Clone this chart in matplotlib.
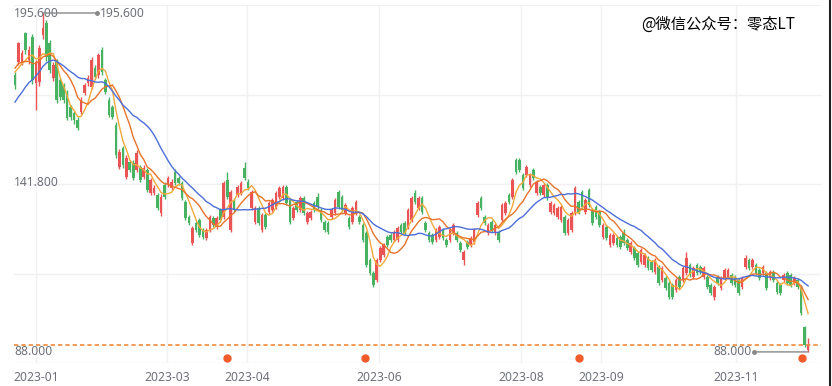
import matplotlib.pyplot as plt
import matplotlib.transforms as mtransforms
from matplotlib.lines import Line2D
import numpy as np
import pandas as pd

# daily candles (Dec 2022 - Nov 2023)
open_ = [175.9, 180.0, 180.0, 189.3, 180.7, 188.0, 173.4, 173.7, 188.6, 192.4,
         186.1, 175.0, 180.0, 174.3, 172.7, 170.2, 165.8, 163.8, 161.6, 164.2,
         170.2, 173.4, 172.1, 178.1, 175.9, 183.9, 174.3, 168.0, 165.8, 160.0,
         146.7, 152.7, 143.5, 148.3, 148.0, 145.8, 146.7, 143.5, 145.8, 138.5,
         138.5, 137.8, 132.1, 141.0, 141.0, 140.0, 145.1, 143.2, 141.6, 135.6,
         130.8, 122.6, 128.9, 129.9, 126.7, 124.2, 126.7, 130.5, 127.7, 133.1,
         130.8, 142.6, 126.7, 136.2, 137.8, 138.5, 146.4, 142.0, 133.7, 129.2,
         133.7, 126.7, 131.5, 132.4, 133.1, 134.0, 137.2, 136.9, 140.4, 136.2,
         130.5, 135.6, 133.1, 136.9, 129.2, 130.5, 135.3, 137.2, 133.1, 129.2,
         128.9, 130.8, 132.1, 138.8, 137.2, 132.1, 130.5, 129.2, 132.1, 130.8,
         128.3, 125.8, 117.2, 113.1, 110.8, 117.2, 118.8, 124.5, 125.1, 123.5,
         123.5, 128.3, 128.9, 127.7, 129.9, 138.5, 133.7, 136.9, 128.9, 125.8,
         125.1, 123.5, 124.5, 126.7, 123.5, 123.5, 125.8, 125.8, 122.6, 117.2,
         122.9, 121.9, 122.9, 131.5, 136.9, 130.8, 125.8, 129.2, 125.8, 126.1,
         129.9, 132.1, 137.8, 137.2, 148.9, 148.9, 144.2, 144.2, 141.0, 145.8,
         138.5, 140.4, 137.8, 141.0, 132.4, 132.1, 130.8, 129.9, 130.8, 125.8,
         126.7, 132.1, 135.6, 138.8, 132.4, 139.4, 133.1, 134.0, 132.4, 124.5,
         127.7, 121.9, 122.6, 124.2, 124.5, 125.8, 123.5, 119.7, 121.0, 119.4,
         116.5, 115.6, 117.8, 116.5, 113.4, 115.0, 110.8, 111.5, 109.9, 109.2,
         107.6, 111.8, 110.8, 113.1, 115.6, 111.8, 115.6, 115.0, 111.8, 111.8,
         109.2, 105.4, 111.8, 108.3, 111.5, 111.8, 112.4, 111.8, 110.8, 108.6,
         115.0, 117.2, 115.0, 115.6, 114.0, 113.1, 113.1, 111.5, 113.4, 109.9,
         109.2, 110.8, 113.1, 112.4, 109.9, 110.8, 108.3, 95.9, 88.6]
close = [172.7, 186.1, 182.9, 183.9, 183.9, 174.3, 180.0, 184.5, 190.8, 181.6,
         177.5, 179.1, 168.0, 168.9, 168.0, 162.3, 162.6, 161.6, 159.1, 168.0,
         172.7, 175.0, 180.7, 175.3, 182.3, 176.9, 170.5, 163.2, 162.6, 150.5,
         151.5, 147.3, 149.6, 145.8, 143.2, 151.2, 142.6, 146.4, 139.4, 142.6,
         140.0, 133.7, 137.2, 137.2, 143.2, 142.0, 141.6, 141.6, 136.9, 130.5,
         128.9, 127.3, 126.7, 125.1, 124.5, 126.7, 130.8, 128.3, 130.5, 129.9,
         141.6, 137.2, 138.8, 133.1, 140.4, 141.6, 143.2, 140.0, 138.8, 133.7,
         128.9, 131.5, 127.7, 135.3, 136.2, 138.5, 140.0, 140.4, 135.3, 129.2,
         133.7, 133.1, 136.9, 132.1, 132.1, 132.4, 133.1, 134.0, 129.9, 126.7,
         126.1, 133.1, 136.2, 134.0, 133.1, 134.6, 127.7, 133.7, 135.6, 129.2,
         123.5, 115.6, 113.1, 109.2, 117.2, 121.0, 121.9, 121.9, 123.5, 126.1,
         127.3, 126.1, 125.8, 133.1, 136.9, 135.6, 136.9, 132.4, 126.7, 123.5,
         122.9, 126.7, 127.7, 124.2, 121.9, 126.7, 128.3, 123.5, 120.4, 119.7,
         121.3, 124.2, 126.7, 135.3, 133.7, 128.9, 128.3, 126.7, 128.3, 123.5,
         134.6, 135.3, 135.6, 142.6, 145.1, 145.8, 140.0, 146.7, 144.2, 143.2,
         142.0, 138.5, 141.0, 136.9, 135.3, 134.6, 133.7, 134.0, 125.8, 129.9,
         132.1, 140.0, 132.4, 134.0, 136.2, 134.6, 128.9, 130.8, 128.3, 128.3,
         124.2, 125.1, 125.1, 121.9, 121.3, 122.6, 121.0, 122.6, 117.8, 115.6,
         120.4, 118.8, 114.6, 114.0, 117.2, 109.9, 114.6, 108.3, 105.4, 105.4,
         110.8, 108.6, 114.6, 117.8, 112.4, 114.6, 113.1, 113.4, 114.6, 108.6,
         106.7, 108.6, 109.9, 111.5, 114.0, 114.0, 109.9, 109.2, 106.7, 111.5,
         117.8, 114.6, 117.2, 113.1, 111.5, 115.0, 108.3, 113.4, 110.8, 107.0,
         106.7, 112.4, 109.9, 109.2, 111.5, 108.6, 100.4, 90.2, 90.2]
high = [177.0, 186.4, 184.0, 189.6, 185.0, 189.0, 180.7, 185.5, 195.6, 193.4,
        187.0, 180.0, 181.0, 175.0, 173.5, 171.0, 166.5, 164.5, 162.5, 169.0,
        173.5, 176.0, 181.5, 179.0, 183.0, 184.8, 175.0, 169.0, 166.5, 161.0,
        152.5, 153.5, 150.5, 149.0, 148.8, 152.0, 147.5, 147.2, 146.5, 143.3,
        141.0, 138.5, 138.0, 141.8, 144.0, 142.8, 146.0, 144.0, 142.3, 136.2,
        131.5, 128.0, 129.5, 130.5, 127.3, 127.3, 131.5, 131.0, 131.2, 133.7,
        142.3, 145.0, 139.5, 137.0, 141.0, 142.3, 148.3, 142.8, 139.5, 134.3,
        134.3, 132.1, 132.1, 136.0, 136.9, 139.2, 140.6, 141.0, 141.0, 136.9,
        134.3, 136.2, 137.5, 137.5, 132.7, 133.0, 136.0, 138.5, 133.7, 129.9,
        129.5, 133.7, 136.9, 139.4, 137.8, 135.3, 131.2, 134.3, 136.2, 131.5,
        128.9, 126.4, 117.8, 113.7, 117.8, 121.6, 122.6, 125.1, 125.8, 126.7,
        128.0, 128.9, 129.5, 133.7, 137.5, 139.4, 137.5, 137.5, 129.5, 126.4,
        125.8, 127.3, 128.3, 127.3, 124.2, 127.3, 128.9, 126.4, 123.2, 120.4,
        123.5, 124.8, 127.3, 136.0, 137.5, 131.5, 128.9, 129.9, 128.9, 126.7,
        135.3, 136.0, 138.5, 143.2, 149.6, 149.6, 144.8, 147.3, 144.8, 146.4,
        142.6, 141.0, 141.6, 141.6, 136.0, 135.3, 134.3, 134.6, 131.5, 130.5,
        132.7, 140.6, 136.2, 139.4, 136.9, 140.0, 133.7, 134.6, 133.1, 128.9,
        128.3, 125.8, 125.8, 124.8, 125.1, 127.0, 124.2, 123.2, 121.6, 120.0,
        121.0, 119.4, 118.4, 117.2, 117.8, 115.6, 115.2, 112.1, 110.5, 109.9,
        111.5, 112.4, 115.2, 119.7, 116.2, 115.2, 116.2, 115.6, 115.2, 112.4,
        109.9, 109.2, 112.4, 112.1, 114.6, 114.6, 113.1, 112.4, 111.5, 112.1,
        118.8, 117.8, 117.8, 116.2, 114.6, 115.6, 113.7, 114.0, 114.0, 110.5,
        109.9, 113.1, 113.7, 113.1, 112.1, 111.5, 108.9, 96.2, 92.4]
low = [171.5, 179.0, 179.0, 182.5, 179.5, 173.0, 164.8, 172.5, 187.5, 180.5,
       176.5, 174.0, 167.0, 168.0, 167.0, 161.5, 161.5, 160.5, 158.3, 163.5,
       169.5, 172.5, 171.5, 174.5, 175.0, 176.0, 169.8, 162.5, 161.8, 149.6,
       146.0, 146.5, 142.8, 145.0, 142.5, 145.0, 142.0, 142.8, 138.8, 137.8,
       137.8, 133.0, 131.3, 136.5, 140.3, 139.4, 141.0, 141.0, 136.2, 129.9,
       128.3, 121.9, 126.0, 124.5, 123.8, 123.5, 126.0, 127.7, 127.0, 129.2,
       130.2, 136.5, 126.0, 132.4, 137.2, 137.8, 142.6, 139.4, 133.0, 128.6,
       128.3, 126.0, 127.0, 131.8, 132.4, 133.4, 136.5, 136.2, 134.6, 128.6,
       129.9, 132.4, 132.4, 131.5, 128.6, 129.9, 132.4, 133.4, 129.2, 126.0,
       125.5, 130.2, 131.5, 133.4, 132.4, 131.5, 127.0, 128.6, 131.5, 128.6,
       122.9, 115.0, 112.4, 108.6, 110.2, 116.5, 118.1, 121.3, 122.9, 122.9,
       122.9, 125.5, 125.1, 127.0, 129.2, 135.0, 133.0, 131.8, 126.0, 122.9,
       122.3, 122.9, 123.8, 123.5, 121.3, 122.9, 125.1, 122.9, 119.7, 115.6,
       120.7, 121.3, 122.3, 130.8, 133.0, 128.3, 125.1, 126.0, 125.1, 122.9,
       129.2, 131.5, 135.0, 136.5, 144.5, 145.1, 139.4, 143.5, 140.4, 142.6,
       137.8, 137.8, 137.2, 136.2, 131.8, 131.5, 130.2, 129.2, 125.1, 125.1,
       126.1, 131.5, 131.8, 133.4, 131.8, 134.0, 128.3, 130.2, 127.7, 123.8,
       123.5, 121.3, 121.9, 121.3, 120.7, 121.9, 120.4, 119.1, 117.2, 115.0,
       115.9, 115.0, 114.0, 113.4, 112.8, 109.2, 110.2, 107.6, 104.8, 104.8,
       107.0, 108.0, 110.2, 112.4, 111.8, 111.2, 112.4, 112.8, 111.2, 108.0,
       106.0, 104.5, 109.2, 107.6, 110.8, 111.2, 109.2, 108.6, 106.0, 108.0,
       114.3, 114.0, 114.3, 112.4, 110.8, 112.4, 107.6, 110.8, 110.2, 106.4,
       106.0, 110.2, 109.2, 108.6, 109.2, 108.0, 99.8, 89.6, 88.0]
# closes before the visible window (only feed the moving averages)
warmup_close = [152, 154, 151, 155, 157, 156, 158, 157, 160, 165,
                172, 178, 182, 183, 181.5, 180, 176, 178.8, 177]

month_labels = ['2023-01', '2023-03', '2023-04', '2023-06', '2023-08', '2023-09', '2023-11']
month_pos = [6, 43.7, 66.7, 104.7, 145.5, 168.5, 207.3]
signal_pos = [61, 100.6, 162.2, 226.3]
ma_windows = [5, 10, 20]
ma_colors = ['#F2A93B', '#E8732A', '#4C6FD8']

UP, DOWN = '#EB5454', '#47B262'
TXT = '#6E7079'
GRID = '#F1F1F3'
FONT = ['Noto Sans', 'DejaVu Sans']
FS = 8.7

plt.rcParams['font.family'] = FONT

fig = plt.figure(figsize=(8.32, 3.86), dpi=100)
ax = fig.add_axes([14/832, 23/386, 807/832, 358/386])

o, c, h, l = map(np.array, (open_, close, high, low))
x = np.arange(len(c))
cols = np.where(c >= o, UP, DOWN)

ax.vlines(x, l, h, colors=cols, lw=1, zorder=2)
ax.bar(x, np.maximum(np.abs(c - o), 0.3), bottom=np.minimum(o, c),
       width=0.75, color=cols, zorder=3)

allc = pd.Series(warmup_close + close)
nw = len(warmup_close)
for w, col in zip(ma_windows, ma_colors):
    ma = allc.rolling(w).mean().iloc[nw:].values
    ax.plot(x, ma, color=col, lw=1.0, zorder=4)

ylo, yhi = 84.48, 198.14
ax.set_xlim(-0.29, 231.7)
ax.set_ylim(ylo, yhi)

# grid
ax.set_yticks(np.linspace(ylo, yhi, 5))
ax.set_yticklabels([])
ax.set_xticks(month_pos)
ax.set_xticklabels(month_labels, fontsize=FS, color=TXT)
ax.tick_params(length=0, pad=6)
ax.grid(True, color=GRID, lw=1, zorder=0)
for s in ax.spines.values():
    s.set_visible(False)

# y labels drawn inside the plot
ytr = mtransforms.blended_transform_factory(ax.transAxes, ax.transData)
for v in [195.6, 141.8, 88.0]:
    ax.text(0.0, v, f'{v:.3f}', transform=ytr, ha='left', va='center',
            fontsize=FS, color=TXT)

# last price line
ax.axhline(c[-1], color='#F08A3C', lw=1.2, ls=(0, (2.6, 1.8)), zorder=5)

# signal dots along the bottom
xtr = mtransforms.blended_transform_factory(ax.transData, ax.transAxes)
ax.plot(signal_pos, [0.014] * len(signal_pos), 'o', color='#F25C2A', ms=5,
        transform=xtr, clip_on=False, zorder=6)

# highest / lowest marks
off = 39
for i, v, sgn in [(int(h.argmax()), h.max(), 1), (int(l.argmin()), l.min(), -1)]:
    end = ax.transData + mtransforms.ScaledTranslation(sgn * off / 72, 0, fig.dpi_scale_trans)
    ax.annotate('', xy=(i, v), xytext=(sgn * off, 0), textcoords='offset points',
                arrowprops=dict(arrowstyle='-', color='#888888', lw=1, shrinkA=0, shrinkB=0))
    ax.plot([i], [v], 'o', ms=2.5, color='#888888', transform=end, clip_on=False)
    ax.annotate(f'{v:.3f}', xy=(i, v), xytext=(sgn * (off + 2), 0),
                textcoords='offset points', ha='left' if sgn > 0 else 'right',
                va='center', fontsize=FS, color=TXT)

fig.text(641/832, 1 - 24/386, '@微信公众号：零态LT', fontsize=11, color='black',
         family=['Noto Sans CJK SC', 'DejaVu Sans'], ha='left', va='center')
fig.add_artist(Line2D([829.5/832, 829.5/832], [0, 1], color='#222222', lw=1.5))

fig.savefig('out.png', dpi=100)
